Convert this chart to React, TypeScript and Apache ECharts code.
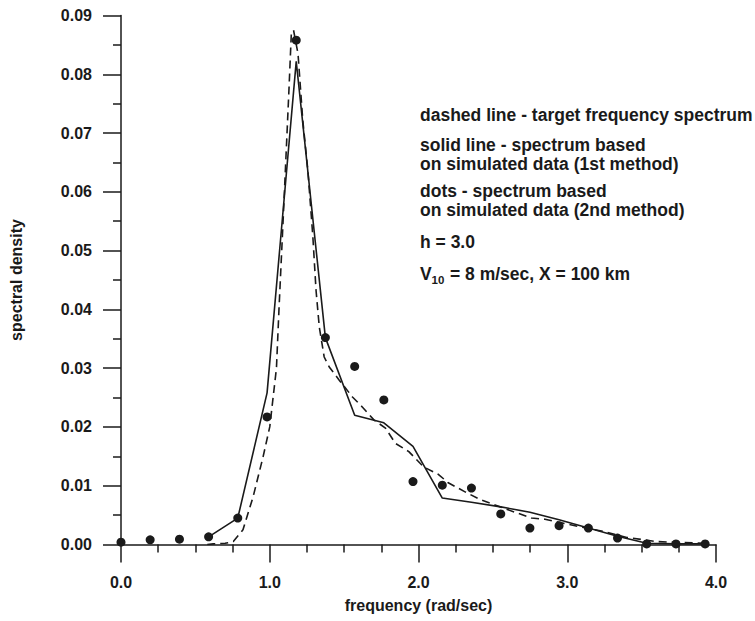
import React, { useEffect, useRef } from "react";
import * as echarts from "echarts";

// Frequencies (rad/sec) of the simulated spectral estimates
const dotFreq = [0, 0.196, 0.393, 0.589, 0.785, 0.982, 1.178, 1.374, 1.571, 1.767, 1.963, 2.16, 2.356, 2.553, 2.749, 2.945, 3.142, 3.338, 3.534, 3.731, 3.927];
// dots - spectrum based on simulated data (2nd method)
const dotDensity = [0.0004, 0.0008, 0.0009, 0.0013, 0.0045, 0.0217, 0.0858, 0.0352, 0.0303, 0.0246, 0.0107, 0.0101, 0.0096, 0.0052, 0.0028, 0.0032, 0.0028, 0.0011, 0.0001, 0.0001, 0.0001];

// solid line - spectrum based on simulated data (1st method)
const solidFreq = [0.589, 0.785, 0.982, 1.178, 1.374, 1.571, 1.767, 1.963, 2.16, 2.356, 2.553, 2.749, 2.945, 3.142, 3.338, 3.534, 3.731, 3.927];
const solidDensity = [0.0013, 0.0045, 0.0258, 0.0822, 0.0352, 0.022, 0.0207, 0.0167, 0.0079, 0.0072, 0.0064, 0.0055, 0.0042, 0.0028, 0.0014, 0.0002, 0.0001, 0.0001];

// dashed line - target frequency spectrum
const targetFreq = [0.58, 0.62, 0.7, 0.755, 0.82, 0.888, 0.955, 1.0, 1.045, 1.062, 1.09, 1.11, 1.13, 1.145, 1.16, 1.19, 1.222, 1.256, 1.29, 1.311, 1.333, 1.366, 1.4, 1.466, 1.556, 1.622, 1.7, 1.778, 1.845, 1.935, 2.035, 2.135, 2.2, 2.31, 2.41, 2.57, 2.76, 2.85, 3.07, 3.25, 3.4, 3.6, 3.93];
const targetDensity = [0.0, 0.0001, 0.0002, 0.0005, 0.0025, 0.0081, 0.0149, 0.02, 0.03, 0.04, 0.0552, 0.0665, 0.0779, 0.0869, 0.0875, 0.0835, 0.0722, 0.0637, 0.0523, 0.0433, 0.037, 0.0319, 0.0302, 0.028, 0.0251, 0.0234, 0.0212, 0.0198, 0.0172, 0.0158, 0.0132, 0.0119, 0.0105, 0.009, 0.0077, 0.0062, 0.0045, 0.0043, 0.0031, 0.0022, 0.0012, 0.0005, 0.0002];

const xTicks = { min: 0, max: 4, interval: 1 };
const yTicks = { min: 0, max: 0.09, interval: 0.01 };

const annotations = [
  "dashed line - target frequency spectrum",
  "solid line - spectrum based",
  "on simulated data (1st method)",
  "dots - spectrum based",
  "on simulated data (2nd method)",
  "h = 3.0",
];

const INK = "#1a1a1a";
const FONT = "'Liberation Sans', Arial, Helvetica, sans-serif";

export default function App() {
  const ref = useRef<HTMLDivElement>(null);
  useEffect(() => {
    if (!ref.current) return;
    const chart = echarts.init(ref.current, undefined, { renderer: "svg" });
    const annTop = [105.5, 136, 154.5, 182, 201, 232.5];
    const textStyleBase = { fill: INK, fontSize: 17.5, fontWeight: "bold", fontFamily: FONT };
    const graphics: any[] = annotations.map((t, i) => ({
      type: "text",
      left: 420,
      top: annTop[i],
      style: { ...textStyleBase, text: t },
    }));
    graphics.push(
      { type: "text", left: 420, top: 264.5, style: { ...textStyleBase, text: "V" } },
      { type: "text", left: 431.5, top: 274, style: { ...textStyleBase, fontSize: 11.5, text: "10" } },
      { type: "text", left: 450, top: 264.5, style: { ...textStyleBase, text: "= 8 m/sec, X = 100 km" } }
    );

    chart.setOption({
      animation: false,
      backgroundColor: "#ffffff",
      textStyle: { fontFamily: FONT },
      grid: { left: 117, right: 39, top: 15.5, bottom: 76.5, containLabel: false },
      xAxis: {
        type: "value",
        min: xTicks.min,
        max: xTicks.max,
        interval: xTicks.interval,
        name: "frequency (rad/sec)",
        nameLocation: "middle",
        nameGap: 53,
        nameTextStyle: { color: INK, fontSize: 16, fontWeight: "bold", fontFamily: FONT },
        axisLine: { show: true, lineStyle: { color: INK, width: 1.5 } },
        axisTick: { show: true, length: 18, lineStyle: { color: INK, width: 1.5 } },
        minorTick: { show: true, splitNumber: 4, length: 8, lineStyle: { color: INK, width: 1.5 } },
        splitLine: { show: false },
        axisLabel: {
          color: INK, fontSize: 16, fontWeight: "bold", fontFamily: FONT, margin: 30,
          formatter: (v: number) => v.toFixed(1),
        },
      },
      yAxis: {
        type: "value",
        min: yTicks.min,
        max: yTicks.max,
        interval: yTicks.interval,
        name: "spectral density",
        nameLocation: "middle",
        nameGap: 97,
        nameTextStyle: { color: INK, fontSize: 16, fontWeight: "bold", fontFamily: FONT },
        axisLine: { show: true, lineStyle: { color: INK, width: 1.5 } },
        axisTick: { show: true, length: 18, lineStyle: { color: INK, width: 1.5 } },
        minorTick: { show: true, splitNumber: 2, length: 8, lineStyle: { color: INK, width: 1.5 } },
        splitLine: { show: false },
        axisLabel: {
          color: INK, fontSize: 16, fontWeight: "bold", fontFamily: FONT, margin: 29,
          formatter: (v: number) => v.toFixed(2),
        },
      },
      series: [
        {
          name: "target",
          type: "line",
          data: targetFreq.map((f, i) => [f, targetDensity[i]]),
          showSymbol: false,
          symbol: "none",
          lineStyle: { color: INK, width: 1.6, type: [8, 5] },
          z: 2,
        },
        {
          name: "1st method",
          type: "line",
          data: solidFreq.map((f, i) => [f, solidDensity[i]]),
          showSymbol: false,
          symbol: "none",
          lineStyle: { color: INK, width: 1.6 },
          z: 3,
        },
        {
          name: "2nd method",
          type: "scatter",
          data: dotFreq.map((f, i) => [f, dotDensity[i]]),
          symbol: "circle",
          symbolSize: 9,
          itemStyle: { color: INK, opacity: 1 },
          z: 4,
        },
      ],
      graphic: graphics,
    });
    return () => chart.dispose();
  }, []);
  return <div ref={ref} style={{ position: "absolute", left: 0, top: 0, width: 755, height: 621 }} />;
}
